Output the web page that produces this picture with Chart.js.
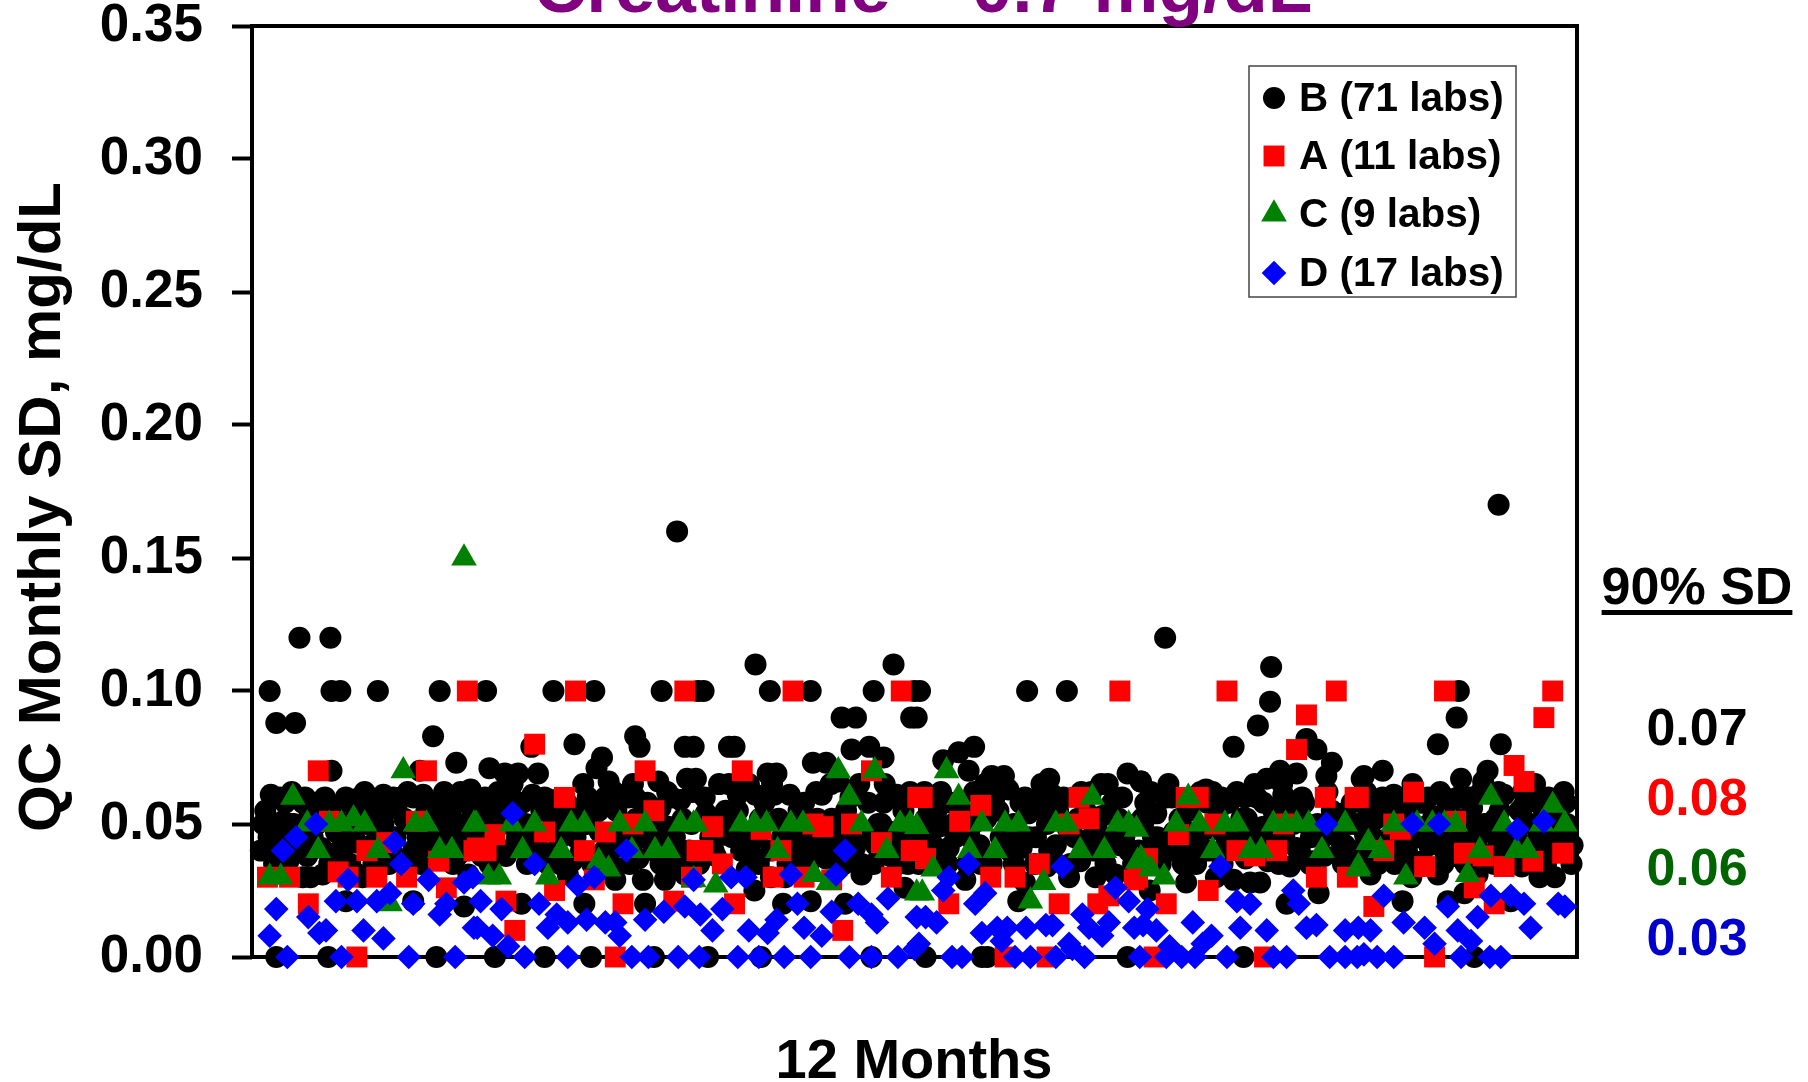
<!DOCTYPE html>
<html>
<head>
<meta charset="utf-8">
<script src="https://cdn.jsdelivr.net/npm/chart.js@4.4.1/dist/chart.umd.min.js"></script>
<style>
  html, body { margin: 0; padding: 0; background: #fff; overflow: hidden; }
  #wrap { width: 1808px; height: 1082px; position: relative; }
</style>
</head>
<body>
<div id="wrap"><canvas id="qcChart"></canvas></div>
<script>
// x = position along the 12 months (10 units per month), y = monthly QC SD (mg/dL)
const seriesB = [
  [4.3,0.12],[7.1,0.12],[1.6,0.10],[7.2,0.10],[8.0,0.10],[11.4,0.10],[17.0,0.10],
  [2.2,0.088],[3.9,0.088],[16.4,0.083],[18.5,0.073],[7.2,0.07],[15.2,0.07],
  [1.7,0.061],[4.8,0.06],[6.6,0.06],[8.5,0.06],[9.8,0.06],[11.9,0.061],[12.8,0.06],[14.6,0.06],[15.5,0.061],[17.6,0.06],[18.9,0.062],[19.8,0.063],
  [12.8,0.056],[16.9,0.057],[3.5,0.05],[5.2,0.053],[11.9,0.05],[16.5,0.05],[18.4,0.05],
  [2.2,0.041],[2.8,0.051],[4.6,0.03],[6.4,0.031],[7.9,0.04],[9.6,0.031],[13.1,0.057],[14.6,0.04],[17.6,0.055],[19.2,0.05],[19.6,0.031],
  [8.5,0.021],[14.6,0.021],[19.2,0.019],[2.2,0],[6.9,0],[16.7,0],
  [1.5,0.045],[3.0,0.058],[5.5,0.045],[6.0,0.058],[8.8,0.045],[9.3,0.052],[10.5,0.058],[10.8,0.042],[12.2,0.046],[13.8,0.052],[15.0,0.045],
  [16.2,0.043],[18.0,0.045],[18.6,0.038],[20.0,0.055],[3.3,0.036],[11.0,0.035],[5.0,0.038],
  [38.5,0.16],[21.2,0.10],[27.3,0.10],[31.0,0.10],[37.1,0.10],[40.4,0.10],
  [34.7,0.083],[35.1,0.079],[25.3,0.079],[29.2,0.08],[39.2,0.079],[31.7,0.075],[21.5,0.071],[31.2,0.071],[22.9,0.069],[24.1,0.069],[25.9,0.069],
  [32.3,0.066],[36.8,0.066],[39.4,0.067],[20.0,0.061],[21.1,0.06],[23.5,0.06],[25.4,0.061],[27.1,0.059],[30.4,0.06],[32.0,0.06],[34.1,0.06],
  [34.7,0.06],[38.0,0.06],[38.8,0.059],[25.6,0.04],[32.6,0.041],[38.8,0.04],[27.7,0.049],[37.7,0.049],[21.7,0.051],
  [32.9,0.029],[35.4,0.029],[37.4,0.029],[28.6,0.031],[39.2,0.031],[24.4,0.02],[30.1,0.02],[35.6,0.02],
  [22.0,0],[26.5,0],[30.7,0],[36.4,0],
  [20.5,0.053],[22.5,0.056],[24.0,0.045],[26.2,0.055],[28.0,0.045],[29.6,0.055],[31.5,0.047],[33.0,0.055],[34.0,0.045],[36.0,0.05],
  [37.0,0.056],[39.8,0.05],[23.0,0.038],[29.0,0.036],[35.0,0.037],[26.8,0.035],[33.5,0.04],[21.5,0.035],
  [45.6,0.11],[58.1,0.11],[40.9,0.10],[46.9,0.10],[50.6,0.10],[56.3,0.10],[60.0,0.10],[59.7,0.09],
  [53.4,0.09],[54.7,0.09],[43.2,0.079],[43.7,0.079],[54.3,0.078],[55.9,0.079],[57.2,0.075],[40.0,0.079],
  [46.7,0.069],[47.5,0.069],[50.8,0.073],[52.0,0.073],[40.2,0.067],[53.1,0.066],
  [44.0,0.061],[45.6,0.061],[47.3,0.061],[48.7,0.061],[51.6,0.061],[57.2,0.058],[58.4,0.061],[41.1,0.054],[42.9,0.055],
  [44.3,0.04],[45.3,0.038],[50.6,0.04],[54.6,0.041],[58.8,0.043],[42.8,0.046],
  [45.5,0.025],[55.2,0.031],[59.1,0.026],[56.3,0.035],[48.1,0.02],[50.6,0.021],[53.7,0.02],[41.3,0],[46.1,0],[56.1,0],
  [41.5,0.045],[43.0,0.05],[46.0,0.052],[48.0,0.045],[49.5,0.055],[51.0,0.045],[52.5,0.052],[53.8,0.055],[55.5,0.045],[57.0,0.05],
  [59.0,0.055],[44.8,0.033],[48.5,0.035],[52.0,0.037],[57.8,0.038],[47.0,0.03],[60.0,0.045],
  [60.5,0.10],[70.2,0.10],[73.8,0.10],[60.2,0.09],[65.4,0.079],[64.0,0.077],[62.6,0.074],[64.9,0.07],
  [67.0,0.068],[68.1,0.068],[72.2,0.067],[79.3,0.069],[76.9,0.065],[78.8,0.06],[80.5,0.066],
  [65.4,0.062],[68.5,0.063],[70.0,0.06],[72.5,0.061],[67.2,0.059],[61.3,0.056],[62.2,0.049],[70.3,0.054],[71.6,0.056],[77.0,0.053],
  [63.1,0.041],[69.7,0.041],[72.2,0.04],[79.4,0.04],[68.2,0.044],[64.6,0.029],[74.0,0.03],[76.4,0.03],[78.2,0.031],[70.0,0.028],
  [69.4,0.021],[61.0,0],[66.1,0],[66.6,0],[79.3,0],
  [60.8,0.045],[62.0,0.055],[63.5,0.05],[65.0,0.045],[66.5,0.052],[67.8,0.045],[69.0,0.05],[71.0,0.045],[73.0,0.055],[74.5,0.045],
  [75.5,0.055],[76.0,0.045],[77.8,0.045],[78.5,0.052],[66.0,0.035],[72.0,0.034],[75.0,0.036],[62.5,0.034],
  [82.7,0.12],[92.3,0.109],[92.2,0.096],[91.1,0.087],[88.9,0.079],[95.5,0.082],[96.4,0.078],[97.8,0.073],[97.3,0.068],[93.1,0.07],
  [94.6,0.069],[91.9,0.067],[100.5,0.067],[80.5,0.066],[81.4,0.062],[83.3,0.06],[86.4,0.063],[89.2,0.062],[87.8,0.06],[93.4,0.061],
  [95.1,0.06],[91.6,0.058],[98.9,0.054],[81.9,0.054],[90.1,0.052],[91.6,0.049],[98.3,0.048],[80.7,0.05],
  [83.1,0.04],[85.2,0.041],[94.6,0.041],[98.6,0.04],[84.3,0.035],[84.6,0.028],[87.3,0.03],[88.9,0.029],[90.4,0.028],[91.3,0.028],
  [94.0,0.034],[96.6,0.024],[93.7,0.02],[81.3,0.025],[89.8,0],
  [82.0,0.045],[84.0,0.052],[86.0,0.047],[87.5,0.055],[89.0,0.047],[92.5,0.055],[93.5,0.045],[95.5,0.05],[97.0,0.045],[99.5,0.05],
  [85.5,0.035],[90.0,0.037],[92.0,0.036],[96.0,0.036],[99.0,0.037],[86.5,0.058],
  [112.9,0.17],[109.3,0.10],[109.1,0.09],[107.4,0.08],[113.1,0.08],[100.7,0.068],[102.4,0.07],[109.5,0.067],[111.9,0.07],[111.5,0.066],[116.2,0.065],
  [103.4,0.061],[106.5,0.06],[108.0,0.06],[109.2,0.06],[113.4,0.061],[117.4,0.06],[101.0,0.056],[110.5,0.056],[118.6,0.051],[115.2,0.057],
  [100.8,0.046],[106.2,0.049],[110.7,0.049],[118.0,0.048],[104.6,0.04],[108.0,0.04],[112.8,0.041],[117.1,0.04],
  [101.3,0.031],[107.4,0.031],[116.6,0.03],[118.0,0.03],[104.2,0.021],[108.3,0.021],[109.8,0.024],[114.0,0.021],[111.0,0.031],[110.7,0],
  [101.8,0.052],[103.0,0.045],[104.5,0.055],[105.5,0.045],[107.0,0.053],[108.8,0.046],[110.0,0.052],[112.0,0.047],[113.0,0.055],[114.5,0.045],
  [115.8,0.05],[117.0,0.055],[119.0,0.045],[103.5,0.035],[106.0,0.036],[112.5,0.035],[115.0,0.034],[119.0,0.058],[105.0,0.03],[119.5,0.035],
  // dense core of the B cloud
  [0.8,0.04],[1.2,0.055],[2.0,0.035],[2.5,0.06],[3.0,0.045],[3.8,0.05],[4.2,0.04],[4.6,0.058],
  [5.3,0.03],[5.9,0.05],[6.3,0.041],[7.0,0.035],[7.5,0.055],[8.2,0.04],[9.0,0.058],[9.5,0.043],
  [10.0,0.03],[10.4,0.05],[11.2,0.055],[11.6,0.04],[12.4,0.035],[13.0,0.045],[13.5,0.06],[14.2,0.05],
  [15.3,0.035],[15.8,0.055],[16.4,0.047],[17.0,0.04],[17.4,0.062],[18.0,0.055],[18.8,0.047],[19.5,0.04],
  [20.3,0.045],[20.8,0.038],[21.8,0.047],[22.3,0.062],[23.3,0.05],[23.8,0.042],[24.5,0.058],[24.9,0.035],
  [25.5,0.045],[26.0,0.04],[26.5,0.06],[27.3,0.052],[27.9,0.035],[28.5,0.058],[29.3,0.045],[29.8,0.04],
  [30.3,0.05],[30.8,0.035],[31.4,0.055],[32.2,0.045],[32.8,0.062],[33.4,0.048],[34.2,0.035],[34.8,0.052],
  [35.3,0.045],[35.8,0.058],[36.4,0.04],[37.0,0.035],[37.6,0.062],[38.3,0.045],[39.0,0.052],[39.6,0.04],
  [40.5,0.035],[41.0,0.06],[41.8,0.04],[42.3,0.065],[43.5,0.045],[44.0,0.055],[44.6,0.04],[45.0,0.065],
  [45.8,0.045],[46.4,0.058],[47.0,0.04],[47.7,0.052],[48.3,0.03],[48.9,0.045],[49.4,0.04],[50.0,0.058],
  [50.4,0.035],[51.2,0.052],[51.8,0.04],[52.4,0.065],[53.0,0.045],[53.6,0.035],[54.2,0.06],[54.9,0.047],
  [55.2,0.035],[55.8,0.058],[56.5,0.042],[57.3,0.065],[57.9,0.047],[58.5,0.035],[59.2,0.045],[59.6,0.062],
  [60.4,0.035],[61.0,0.052],[61.7,0.042],[62.4,0.062],[63.0,0.035],[63.7,0.045],[64.3,0.055],[64.8,0.035],
  [65.3,0.05],[65.9,0.042],[66.4,0.065],[67.0,0.035],[67.6,0.055],[68.4,0.048],[69.0,0.035],[69.6,0.058],
  [70.4,0.045],[70.9,0.035],[71.5,0.065],[72.0,0.05],[72.8,0.042],[73.5,0.06],[74.1,0.035],[74.8,0.052],
  [75.3,0.04],[76.0,0.062],[76.6,0.047],[77.3,0.035],[77.9,0.058],[78.6,0.042],[79.2,0.05],[79.8,0.035],
  [80.3,0.04],[80.9,0.058],[81.6,0.045],[82.3,0.035],[82.8,0.06],[83.5,0.047],[84.2,0.04],[84.8,0.055],
  [85.3,0.045],[85.9,0.062],[86.6,0.04],[87.2,0.048],[87.9,0.035],[88.5,0.058],[89.3,0.042],[89.9,0.06],
  [90.5,0.045],[91.0,0.06],[91.7,0.04],[92.3,0.048],[93.0,0.035],[93.8,0.058],[94.3,0.05],[94.9,0.04],
  [95.3,0.058],[95.9,0.045],[96.5,0.05],[97.1,0.038],[97.8,0.055],[98.4,0.045],[99.0,0.042],[99.6,0.058],
  [100.3,0.04],[100.9,0.062],[101.5,0.045],[102.0,0.035],[102.7,0.055],[103.3,0.042],[104.0,0.06],[104.8,0.047],
  [105.3,0.035],[105.9,0.058],[106.6,0.042],[107.2,0.047],[107.9,0.035],[108.5,0.055],[109.3,0.042],[109.9,0.035],
  [110.3,0.06],[110.9,0.042],[111.6,0.05],[112.2,0.038],[112.9,0.062],[113.6,0.045],[114.2,0.035],[114.8,0.055],
  [115.3,0.042],[115.9,0.06],[116.5,0.045],[117.2,0.035],[117.8,0.052],[118.4,0.04],[119.1,0.05],[119.6,0.042],
  [1.0,0.05],[2.3,0.047],[3.6,0.062],[4.9,0.044],[6.2,0.052],[7.6,0.047],[8.9,0.035],[10.2,0.062],[11.5,0.047],[12.9,0.038],
  [14.1,0.062],[15.6,0.04],[16.9,0.047],[18.2,0.035],[19.4,0.058],[20.9,0.058],[22.1,0.04],[23.6,0.065],[24.8,0.05],[26.1,0.046],
  [27.5,0.04],[28.8,0.052],[30.0,0.065],[31.9,0.04],[33.2,0.035],[34.5,0.065],[36.2,0.048],[37.4,0.045],[38.6,0.035],[39.9,0.062],
  [40.8,0.052],[42.0,0.038],[43.2,0.065],[44.5,0.047],[45.9,0.035],[47.1,0.065],[48.5,0.05],[49.8,0.045],[51.1,0.062],[52.7,0.042],
  [53.9,0.048],[55.0,0.065],[56.7,0.05],[58.2,0.045],[59.4,0.035],[60.9,0.062],[62.1,0.04],[63.3,0.058],[64.6,0.05],[65.7,0.038],
  [67.3,0.062],[68.6,0.04],[69.8,0.045],[71.2,0.058],[72.6,0.036],[73.9,0.048],[75.1,0.062],[76.3,0.04],[77.5,0.065],[79.0,0.045],
  [80.6,0.052],[81.8,0.038],[83.0,0.065],[84.4,0.048],[85.8,0.04],[87.0,0.062],[88.2,0.042],[89.6,0.052],[90.8,0.065],[92.0,0.042],
  [93.3,0.065],[94.6,0.055],[95.8,0.035],[97.4,0.062],[98.8,0.035],[100.0,0.05],[101.2,0.038],[102.4,0.06],[103.8,0.05],[105.1,0.065],
  [106.3,0.048],[107.6,0.062],[108.9,0.038],[110.1,0.045],[111.3,0.062],[112.6,0.052],[113.9,0.038],[115.1,0.062],[116.3,0.035],[117.6,0.045],[118.8,0.062]
];
const seriesA = [
  [19.5,0.10],[6.0,0.07],[15.8,0.07],[7.0,0.051],[14.9,0.051],[1.4,0.03],[3.4,0.03],[5.1,0.02],[7.8,0.032],[8.7,0.03],[11.3,0.03],
  [10.4,0.04],[12.2,0.043],[14.0,0.03],[16.9,0.036],[17.6,0.026],[20.1,0.04],[9.5,0],
  [29.3,0.10],[39.2,0.10],[25.6,0.08],[35.6,0.07],[28.3,0.06],[36.4,0.055],[22.0,0.046],[26.5,0.047],[32.0,0.047],[34.5,0.05],
  [20.4,0.041],[21.2,0.04],[30.1,0.04],[40.3,0.04],[27.4,0.025],[31.0,0.029],[39.8,0.03],[23.0,0.021],[33.6,0.02],[38.2,0.021],[23.8,0.01],[32.9,0],
  [49.0,0.10],[58.8,0.10],[44.4,0.07],[56.1,0.07],[60.3,0.06],[41.7,0.049],[46.1,0.048],[50.8,0.05],[51.7,0.049],[54.3,0.05],
  [40.8,0.04],[47.9,0.04],[57.0,0.043],[59.7,0.04],[42.6,0.035],[47.2,0.03],[50.0,0.03],[52.5,0.029],[57.9,0.03],[43.7,0.02],[53.5,0.01],
  [78.6,0.10],[60.7,0.06],[66.0,0.057],[74.9,0.06],[64.1,0.051],[75.8,0.052],[74.0,0.05],[60.2,0.04],[61.0,0.037],[66.9,0.03],
  [69.1,0.03],[71.3,0.035],[79.9,0.029],[63.1,0.02],[73.1,0.02],[76.6,0.02],[77.6,0.023],[68.2,0],[72.0,0],
  [88.3,0.10],[98.2,0.10],[95.5,0.091],[94.6,0.078],[84.6,0.06],[85.7,0.06],[97.2,0.06],[99.9,0.06],[87.2,0.05],[83.9,0.046],[93.4,0.05],
  [89.2,0.04],[90.8,0.038],[92.8,0.04],[81.1,0.037],[96.4,0.03],[99.2,0.03],[86.6,0.025],[80.2,0.03],[82.8,0.02],[81.7,0],[91.7,0],
  [108.0,0.10],[117.8,0.10],[117.0,0.09],[114.3,0.072],[115.2,0.066],[105.2,0.062],[100.2,0.06],[103.4,0.05],[109.0,0.051],[104.0,0.048],
  [102.5,0.04],[109.8,0.039],[111.5,0.038],[118.7,0.039],[116.0,0.036],[106.2,0.034],[113.4,0.034],[110.7,0.026],[101.6,0.019],[112.5,0.02],[107.1,0]
];
const seriesC = [
  [19.2,0.15],[13.7,0.07],[3.7,0.06],[5.0,0.05],[7.0,0.05],[8.1,0.05],[9.2,0.052],[10.2,0.05],[14.8,0.05],[15.8,0.05],[20.1,0.05],
  [6.0,0.04],[11.4,0.04],[17.0,0.04],[18.1,0.04],[1.6,0.03],[2.6,0.03],[12.5,0.02],
  [20.3,0.05],[23.5,0.05],[25.6,0.05],[28.9,0.05],[30.1,0.05],[33.3,0.05],[35.6,0.05],[38.8,0.05],[40.0,0.05],
  [24.5,0.04],[28.0,0.04],[34.4,0.04],[36.5,0.04],[37.7,0.04],[31.4,0.036],[32.3,0.033],[22.4,0.03],[21.4,0.03],[26.8,0.03],
  [53.1,0.07],[56.4,0.07],[54.1,0.06],[40.2,0.05],[44.3,0.05],[45.5,0.05],[46.6,0.05],[48.8,0.05],[49.9,0.05],[55.2,0.05],[58.7,0.05],[59.6,0.05],
  [47.6,0.04],[57.5,0.04],[40.0,0.029],[42.0,0.027],[50.9,0.031],[52.2,0.028],[60.2,0.024],
  [62.9,0.07],[64.0,0.06],[76.1,0.06],[60.2,0.049],[66.1,0.05],[68.2,0.05],[69.4,0.05],[72.8,0.05],[73.8,0.05],[78.4,0.05],[79.4,0.05],
  [65.0,0.04],[67.3,0.04],[75.0,0.04],[77.2,0.04],[80.2,0.036],[61.7,0.033],[71.7,0.028],[60.7,0.024],[70.5,0.021],
  [84.8,0.06],[83.7,0.05],[85.8,0.05],[88.1,0.05],[89.2,0.05],[92.5,0.05],[93.6,0.05],[94.6,0.05],[95.7,0.05],[99.0,0.05],[80.1,0.048],
  [87.0,0.04],[90.4,0.04],[91.4,0.04],[96.9,0.04],[80.5,0.037],[81.4,0.033],[82.6,0.03],[100.2,0.034],
  [112.2,0.06],[117.8,0.057],[103.4,0.05],[105.5,0.05],[106.9,0.05],[108.0,0.05],[109.0,0.05],[113.4,0.05],[116.8,0.05],[118.9,0.05],
  [101.1,0.043],[102.2,0.04],[111.2,0.04],[114.5,0.04],[115.5,0.04],[100.2,0.033],[104.5,0.03],[110.1,0.031]
];
const seriesD = [
  [5.8,0.05],[4.0,0.045],[2.8,0.04],[12.9,0.043],[13.5,0.035],[16.0,0.029],[19.2,0.028],[8.7,0.029],[12.5,0.024],[7.6,0.021],[9.5,0.021],
  [11.3,0.021],[14.6,0.02],[17.0,0.016],[17.6,0.02],[2.2,0.018],[5.1,0.015],[6.7,0.01],[10.1,0.01],[11.9,0.007],[1.6,0.008],[6.1,0.009],
  [20.1,0.011],[3.2,0],[8.1,0],[14.2,0],[18.4,0],
  [23.6,0.054],[33.9,0.04],[25.6,0.035],[29.5,0.027],[31.0,0.03],[40.0,0.029],[20.0,0.03],[26.0,0.02],[20.7,0.021],[22.6,0.018],[27.6,0.016],
  [37.3,0.017],[39.2,0.019],[35.6,0.014],[30.3,0.014],[32.0,0.013],[32.9,0.013],[28.6,0.013],[26.8,0.011],[20.4,0.011],[33.3,0.008],[21.8,0.008],
  [24.7,0],[28.6,0],[34.4,0],[35.9,0],[38.6,0],[23.2,0.004],
  [53.7,0.04],[43.4,0.03],[44.7,0.03],[48.8,0.031],[52.9,0.031],[42.6,0.018],[49.4,0.02],[52.5,0.017],[54.9,0.02],[57.6,0.022],[56.1,0.016],
  [40.6,0.016],[60.2,0.015],[41.7,0.01],[45.0,0.01],[47.5,0.014],[46.7,0.009],[50.0,0.011],[51.6,0.008],[56.6,0.013],
  [40.5,0],[44.0,0],[45.9,0],[48.2,0],[50.6,0],[54.1,0],[56.1,0],[58.5,0],[60.0,0.003],
  [64.9,0.035],[73.4,0.034],[63.1,0.03],[62.6,0.025],[66.4,0.024],[65.5,0.02],[78.2,0.026],[79.4,0.021],[75.2,0.016],[61.0,0.015],[62.0,0.013],
  [77.6,0.013],[66.1,0.009],[67.5,0.011],[68.4,0.011],[70.1,0.011],[71.9,0.012],[72.5,0.012],[75.8,0.011],[77.0,0.008],[79.9,0.011],
  [60.4,0.005],[67.9,0.006],[74.0,0.005],[74.3,0.003],[63.4,0],[64.3,0],[69.1,0],[70.5,0],[72.8,0],[75.4,0],
  [97.3,0.05],[87.7,0.034],[94.3,0.025],[94.8,0.02],[89.2,0.021],[90.4,0.02],[81.1,0.018],[85.2,0.013],[80.7,0.012],[81.9,0.01],[86.9,0.008],
  [89.5,0.011],[91.9,0.01],[95.5,0.011],[96.4,0.012],[99.0,0.01],[100.2,0.011],[83.1,0.004],[86.1,0.005],
  [80.4,0],[82.8,0],[84.2,0],[85.4,0],[88.3,0],[92.5,0],[93.7,0],[97.6,0],[99.0,0],[100.1,0],
  [105.1,0.05],[107.5,0.05],[114.6,0.048],[117.0,0.051],[102.5,0.023],[112.2,0.023],[114.0,0.023],[115.2,0.02],[118.3,0.02],[108.3,0.019],
  [111.0,0.015],[115.8,0.011],[101.3,0.01],[104.3,0.013],[106.2,0.011],[109.2,0.01],[110.4,0.006],[107.1,0.005],[100.7,0.001],
  [101.9,0],[103.4,0],[109.5,0],[112.1,0],[113.1,0],[118.9,0.019]
];
const legendLabels = ['B (71 labs)', 'A (11 labs)', 'C (9 labs)', 'D (17 labs)'];
const sd90Values = ['0.07', '0.08', '0.06', '0.03'];
const yTicks = [0, 0.05, 0.10, 0.15, 0.20, 0.25, 0.30, 0.35];

const FONT = '"Liberation Sans", Arial, Helvetica, sans-serif';

const toPts = arr => arr.map(p => ({ x: p[0], y: p[1] }));

// marker styles, same order as legendLabels
const markers = [
  { style: 'circle',   radius: 11,   color: '#000000' },
  { style: 'rect',     radius: 14.8, color: '#ff0000' },
  { style: 'triangle', radius: 14.8, color: '#008000' },
  { style: 'rectRot',  radius: 12.3, color: '#0000ff' }
];
const sdColors = ['#000000', '#ff0000', '#006400', '#0000cc'];

function makeSet(label, data, m, order) {
  return {
    label: label,
    data: toPts(data),
    pointStyle: m.style,
    pointRadius: m.radius,
    pointHoverRadius: m.radius,
    pointBorderWidth: 0,
    backgroundColor: m.color,
    borderColor: m.color,
    showLine: false,
    clip: false,
    order: order
  };
}

const decorPlugin = {
  id: 'decor',
  beforeDatasetsDraw(chart) {
    const { ctx, chartArea: a } = chart;
    ctx.save();
    ctx.strokeStyle = '#000';
    ctx.lineWidth = 4;
    ctx.strokeRect(a.left, a.top, a.right - a.left, a.bottom - a.top);
    ctx.restore();
  },
  afterDraw(chart) {
    const { ctx } = chart;
    ctx.save();
    // title (cut off at top, as in the original)
    ctx.fillStyle = '#800080';
    ctx.font = 'bold 73px ' + FONT;
    ctx.textAlign = 'center';
    ctx.textBaseline = 'alphabetic';
    ctx.fillText('Creatinine \u2013 0.7 mg/dL', 923, 12);

    // axis titles
    ctx.fillStyle = '#000';
    ctx.font = 'bold 56px ' + FONT;
    ctx.fillText('12 Months', 914, 1078);
    ctx.save();
    ctx.translate(60, 507);
    ctx.rotate(-Math.PI / 2);
    ctx.font = 'bold 60px ' + FONT;
    ctx.fillText('QC Monthly SD, mg/dL', 0, 0);
    ctx.restore();

    // legend box
    ctx.fillStyle = '#fff';
    ctx.fillRect(1249, 66, 267, 231);
    ctx.strokeStyle = '#444';
    ctx.lineWidth = 1.5;
    ctx.strokeRect(1249, 66, 267, 231);
    const rows = [98, 156, 214, 273];
    ctx.textAlign = 'left';
    ctx.textBaseline = 'middle';
    ctx.font = 'bold 40.5px ' + FONT;
    legendLabels.forEach((txt, i) => {
      const m = markers[i];
      ctx.fillStyle = m.color;
      Chart.helpers.drawPoint(ctx, { pointStyle: m.style, radius: m.radius, rotation: 0, borderWidth: 0 }, 1274, rows[i]);
      ctx.fillStyle = '#000';
      ctx.fillText(txt, 1299, rows[i] + 2);
    });

    // 90% SD block
    ctx.textAlign = 'center';
    ctx.textBaseline = 'alphabetic';
    ctx.font = 'bold 52px ' + FONT;
    ctx.fillStyle = '#000';
    ctx.fillText('90% SD', 1697, 604);
    const w = ctx.measureText('90% SD').width;
    ctx.fillRect(1697 - w / 2, 610, w, 5);
    const base = [745, 815, 885, 955];
    sd90Values.forEach((v, i) => {
      ctx.fillStyle = sdColors[i];
      ctx.fillText(v, 1697, base[i]);
    });
    ctx.restore();
  }
};

const chart = new Chart(document.getElementById('qcChart'), {
  type: 'scatter',
  data: {
    datasets: [
      makeSet(legendLabels[0], seriesB, markers[0], 4),
      makeSet(legendLabels[1], seriesA, markers[1], 3),
      makeSet(legendLabels[2], seriesC, markers[2], 2),
      makeSet(legendLabels[3], seriesD, markers[3], 1)
    ]
  },
  options: {
    responsive: true,
    maintainAspectRatio: false,
    animation: false,
    devicePixelRatio: 1,
    layout: { padding: { top: 26, right: 231, bottom: 0, left: 0 } },
    plugins: {
      legend: { display: false },
      tooltip: { enabled: false },
      title: { display: false }
    },
    scales: {
      x: {
        type: 'linear',
        min: 0,
        max: 120,
        ticks: { display: false },
        grid: { display: false, drawTicks: false },
        border: { display: false },
        afterFit: s => { s.height = 125; }
      },
      y: {
        type: 'linear',
        min: 0,
        max: 0.35,
        afterBuildTicks: s => { s.ticks = yTicks.map(v => ({ value: v })); },
        ticks: {
          padding: 29,
          color: '#000',
          font: { family: FONT, size: 53, weight: 'bold' },
          callback: v => Number(v).toFixed(2)
        },
        grid: { drawOnChartArea: false, drawTicks: true, tickLength: 20, tickWidth: 4, tickColor: '#000' },
        border: { display: false },
        afterFit: s => { s.width = 252; s.paddingTop = 0; s.paddingBottom = 0; }
      }
    }
  },
  plugins: [decorPlugin]
});
</script>
</body>
</html>
